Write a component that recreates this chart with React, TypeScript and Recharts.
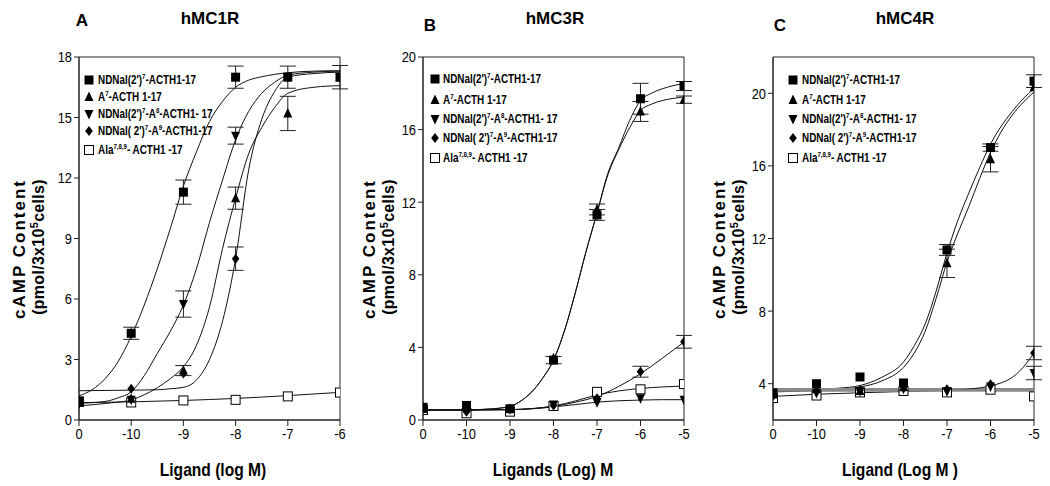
import React from "react";
import {
  ComposedChart,
  Line,
  Scatter,
  XAxis,
  YAxis,
  ErrorBar,
  ReferenceArea,
} from "recharts";

const ARIAL = "'Liberation Sans', Arial, sans-serif";

// x tick labels, log M (position 0 = no ligand)
const TICKS_A = ["0", "-10", "-9", "-8", "-7", "-6"];
const TICKS_BC = ["0", "-10", "-9", "-8", "-7", "-6", "-5"];

// ---- A: hMC1R measured points (one per tick)
const A_SQ = [0.95, 4.3, 11.3, 17.0, 17.0, 17.0];
const A_SQ_ERR = [null, 0.3, 0.6, 0.55, 0.55, 0.58];
const A_UP = [0.85, 1.05, 2.45, 11.0, 15.2, 17.0];
const A_UP_ERR = [null, null, 0.25, 0.55, 0.85, null];
const A_DN = [0.8, 1.0, 5.75, 14.1, 17.0, 17.0];
const A_DN_ERR = [null, null, 0.65, 0.42, null, null];
const A_DIA = [0.95, 1.55, 2.3, 8.0, 17.0, 17.0];
const A_DIA_ERR = [null, null, null, 0.58, null, null];
const A_OPEN = [0.9, 0.87, 0.97, 1.0, 1.17, 1.36];

// A fitted curves [x, y]
const A_CURVE_SQ = [[0, 1.2], [0.25, 1.5], [0.5, 2.05], [0.75, 2.9], [1, 4.15], [1.25, 5.7], [1.5, 7.5], [1.75, 9.5], [2, 11.6], [2.25, 13.3], [2.5, 14.8], [2.75, 15.8], [3, 16.5], [3.25, 16.85], [3.5, 17.02], [4, 17.22], [4.5, 17.3], [5, 17.32]];
const A_CURVE_UP = [[0, 0.7], [0.5, 0.82], [1, 1.0], [1.25, 1.25], [1.5, 1.6], [1.75, 2.05], [2, 2.64], [2.25, 3.7], [2.5, 5.6], [2.75, 8.5], [3, 11.0], [3.25, 13.2], [3.5, 14.5], [3.75, 15.5], [4, 16.2], [4.5, 16.5], [5, 16.58]];
const A_CURVE_DN = [[0, 0.83], [0.5, 0.92], [0.75, 1.1], [1, 1.4], [1.25, 2.2], [1.5, 3.3], [1.75, 4.4], [2, 5.7], [2.25, 7.5], [2.5, 9.8], [2.75, 11.9], [3, 13.9], [3.25, 15.3], [3.5, 16.2], [3.75, 16.75], [4, 17.1], [4.5, 17.25], [5, 17.3]];
const A_CURVE_DIA = [[0, 1.45], [1, 1.48], [1.5, 1.5], [1.75, 1.55], [2, 1.62], [2.25, 1.98], [2.5, 3.0], [2.75, 4.9], [3, 8.0], [3.25, 12.4], [3.5, 14.9], [3.75, 16.3], [4, 17.0], [4.5, 17.18], [5, 17.25]];
const A_CURVE_OPEN = [[0, 0.86], [1, 0.9], [2, 0.97], [3, 1.07], [4, 1.21], [5, 1.37]];

// ---- B: hMC3R
const B_SQ = [0.7, 0.8, 0.62, 3.3, 11.3, 17.7, 18.4];
const B_SQ_ERR = [null, null, null, 0.2, 0.3, 0.85, 0.25];
const B_UP = [0.6, 0.7, 0.6, 3.4, 11.6, 17.0, 17.65];
const B_UP_ERR = [null, null, null, null, 0.3, 0.55, 0.2];
const B_DN = [0.65, 0.7, 0.6, 0.85, 0.98, 1.2, 1.12];
const B_DN_ERR = [null, null, null, null, null, null, null];
const B_DIA = [0.6, 0.45, 0.6, 0.8, 1.2, 2.66, 4.31];
const B_DIA_ERR = [null, null, null, null, null, 0.3, 0.35];
const B_OPEN = [0.55, 0.37, 0.46, 0.77, 1.55, 1.69, 1.98];

const B_CURVE_SQ = [[0, 0.55], [1, 0.56], [1.5, 0.6], [2, 0.75], [2.25, 1.05], [2.5, 1.55], [2.75, 2.3], [3, 3.3], [3.25, 4.9], [3.5, 7.0], [3.75, 9.3], [4, 11.4], [4.25, 13.6], [4.5, 15.0], [4.75, 16.5], [5, 17.6], [5.25, 18.0], [5.5, 18.25], [5.75, 18.42], [6, 18.55]];
const B_CURVE_UP = [[0, 0.55], [1, 0.56], [1.5, 0.6], [2, 0.75], [2.25, 1.05], [2.5, 1.55], [2.75, 2.3], [3, 3.3], [3.25, 4.9], [3.5, 7.0], [3.75, 9.3], [4, 11.4], [4.25, 13.5], [4.5, 14.9], [4.75, 16.1], [5, 17.05], [5.25, 17.4], [5.5, 17.6], [5.75, 17.72], [6, 17.8]];
const B_CURVE_DN = [[0, 0.55], [1, 0.55], [2, 0.57], [2.5, 0.62], [3, 0.72], [3.5, 0.85], [4, 0.98], [4.5, 1.06], [5, 1.1], [5.5, 1.12], [6, 1.12]];
const B_CURVE_DIA = [[0, 0.55], [1, 0.55], [2, 0.57], [2.5, 0.62], [3, 0.75], [3.5, 0.98], [4, 1.3], [4.5, 1.85], [5, 2.55], [5.5, 3.4], [6, 4.3]];
const B_CURVE_OPEN = [[0, 0.55], [1, 0.55], [2, 0.57], [2.5, 0.63], [3, 0.77], [3.5, 1.05], [4, 1.38], [4.5, 1.6], [5, 1.74], [5.5, 1.82], [6, 1.87]];

// ---- C: hMC4R
const C_SQ = [3.5, 4.0, 4.37, 4.04, 11.37, 17.01, 20.67];
const C_SQ_ERR = [null, null, null, null, 0.3, 0.2, 0.35];
const C_UP = [3.4, 3.7, 3.6, 3.8, 10.63, 16.37, 20.34];
const C_UP_ERR = [null, null, null, null, 0.78, 0.7, null];
const C_DN = [3.3, 3.49, 3.59, 3.72, 3.59, 3.85, 4.59];
const C_DN_ERR = [null, null, null, null, null, null, 0.37];
const C_DIA = [3.4, 3.59, 3.64, 3.87, 3.69, 3.97, 5.69];
const C_DIA_ERR = [null, null, null, null, null, null, 0.37];
const C_OPEN = [3.21, 3.35, 3.52, 3.6, 3.52, 3.67, 3.3];

const C_CURVE_SQ = [[0, 3.6], [1, 3.68], [1.5, 3.75], [2, 3.9], [2.5, 4.35], [3, 5.2], [3.25, 6.1], [3.5, 7.3], [3.75, 9.1], [4, 11.2], [4.25, 13.0], [4.5, 14.5], [4.75, 15.9], [5, 17.2], [5.25, 18.2], [5.5, 19.0], [5.75, 19.7], [6, 20.25]];
const C_CURVE_UP = [[0, 3.55], [1, 3.62], [1.5, 3.68], [2, 3.82], [2.5, 4.15], [3, 4.9], [3.25, 5.7], [3.5, 6.9], [3.75, 8.7], [4, 10.7], [4.25, 12.3], [4.5, 13.75], [4.75, 15.3], [5, 16.75], [5.25, 17.9], [5.5, 18.8], [5.75, 19.5], [6, 20.07]];
const C_CURVE_DN = [[0, 3.7], [3, 3.7], [6, 3.7]];
const C_CURVE_DIA = [[0, 3.3], [1, 3.42], [2, 3.5], [3, 3.57], [4, 3.63], [4.5, 3.7], [5, 3.88], [5.25, 4.05], [5.5, 4.35], [5.75, 4.9], [6, 5.7]];
const C_CURVE_OPEN = [[0, 3.62], [3, 3.62], [6, 3.62]];

type Kind = "sq" | "up" | "dn" | "dia" | "open";

function Marker({ kind, cx, cy }: { kind: Kind; cx: number; cy: number }) {
  if (cx == null || cy == null) return null;
  switch (kind) {
    case "sq":
      return <rect x={cx - 4.5} y={cy - 4.5} width={9} height={9} fill="#000" />;
    case "up":
      return <polygon points={`${cx},${cy - 5.5} ${cx + 4.5},${cy + 4} ${cx - 4.5},${cy + 4}`} fill="#000" />;
    case "dn":
      return <polygon points={`${cx},${cy + 5.5} ${cx + 4.5},${cy - 4} ${cx - 4.5},${cy - 4}`} fill="#000" />;
    case "dia":
      return <polygon points={`${cx},${cy - 5} ${cx + 3.8},${cy} ${cx},${cy + 5} ${cx - 3.8},${cy}`} fill="#000" />;
    default:
      return <rect x={cx - 4.5} y={cy - 4.5} width={9} height={9} fill="#fff" stroke="#000" strokeWidth={1} />;
  }
}

const toPoints = (vals: number[], errs?: (number | null)[]) =>
  vals.map((y, i) => ({ x: i, y, e: errs ? errs[i] : null }));
const toCurve = (pairs: number[][]) => pairs.map(([x, y]) => ({ x, y }));

// narrow-looking tick text (no condensed font installed)
function NarrowTick(props: any) {
  const { x, y, payload, textAnchor, vertical, fmt } = props;
  return (
    <g transform={`translate(${x},${y})`}>
      <text
        textAnchor={textAnchor}
        dy={vertical ? "0.36em" : "0.75em"}
        transform="scale(0.86,1)"
        fill="#000"
        fontSize={15}
        fontFamily={ARIAL}
      >
        {fmt ? fmt(payload.value) : payload.value}
      </text>
    </g>
  );
}

type Series = { kind: Kind; vals: number[]; errs?: (number | null)[]; curve: number[][]; gray?: boolean };

function Panel({ left, plotLeft, labels, yDomain, yTicks, series }: {
  left: number; plotLeft: number; labels: string[]; yDomain: [number, number]; yTicks: number[]; series: Series[];
}) {
  const n = labels.length - 1;
  // draw order: open squares under, filled squares on top
  const drawOrder = [...series].reverse();
  return (
    <div style={{ position: "absolute", left, top: 0 }}>
      <ComposedChart width={350} height={486} margin={{ top: 57, right: 350 - plotLeft - 261, bottom: 36, left: 0 }}>
        <XAxis
          type="number"
          dataKey="x"
          domain={[0, n]}
          ticks={labels.map((_, i) => i)}
          height={30}
          tickSize={6}
          tick={<NarrowTick fmt={(v: number) => labels[v]} />}
          axisLine={{ stroke: "#222" }}
          tickLine={{ stroke: "#222" }}
          allowDataOverflow
        />
        <YAxis
          type="number"
          dataKey="y"
          domain={yDomain}
          ticks={yTicks}
          width={plotLeft}
          tickSize={5}
          tick={<NarrowTick vertical />}
          axisLine={{ stroke: "#222" }}
          tickLine={{ stroke: "#222" }}
          allowDataOverflow
        />
        <ReferenceArea x1={0} x2={n} y1={yDomain[0]} y2={yDomain[1]} fill="none" stroke="#222" strokeWidth={1} />
        {series.map((s, i) => (
          <Line
            key={"c" + i}
            data={toCurve(s.curve)}
            dataKey="y"
            type="monotone"
            dot={false}
            stroke={s.gray ? "#8a8a8a" : "#111"}
            strokeWidth={s.gray ? 2.5 : 1}
            isAnimationActive={false}
          />
        ))}
        {drawOrder.map((s, i) => (
          <Scatter
            key={"p" + i}
            data={toPoints(s.vals, s.errs)}
            dataKey="y"
            shape={(p: any) => <Marker kind={s.kind} cx={p.cx} cy={p.cy} />}
            isAnimationActive={false}
          >
            {s.errs && <ErrorBar dataKey="e" direction="y" width={8} stroke="#222" strokeWidth={1} />}
          </Scatter>
        ))}
      </ComposedChart>
    </div>
  );
}

function LegendGlyph({ kind }: { kind: Kind }) {
  return (
    <svg width={12} height={12} style={{ position: "absolute", left: -6, top: -6 }}>
      <Marker kind={kind} cx={6} cy={6} />
    </svg>
  );
}

const sup = { fontSize: 8, verticalAlign: "super", lineHeight: 0 } as const;

const LEGEND_LABELS: [Kind, React.ReactNode][] = [
  ["sq", <>NDNal(2')<sup style={sup}>7</sup>-ACTH1-17</>],
  ["up", <>A<sup style={sup}>7</sup>-ACTH 1-17</>],
  ["dn", <>NDNal(2')<sup style={sup}>7</sup>-A<sup style={sup}>8</sup>-ACTH1- 17</>],
  ["dia", <>NDNal( 2')<sup style={sup}>7</sup>-A<sup style={sup}>9</sup>-ACTH1-17</>],
  ["open", <>Ala<sup style={sup}>7,8,9</sup>- ACTH1 -17</>],
];

function Legend({ markX, textX, rows }: { markX: number; textX: number; rows: number[] }) {
  return (
    <>
      {LEGEND_LABELS.map(([kind, label], i) => (
        <React.Fragment key={i}>
          <div style={{ position: "absolute", left: markX, top: rows[i] }}>
            <LegendGlyph kind={kind} />
          </div>
          <div
            style={{
              position: "absolute", left: textX, top: rows[i] - 8, lineHeight: "16px",
              fontFamily: ARIAL, fontWeight: 700, fontSize: 13, whiteSpace: "nowrap", color: "#000",
              transform: "scaleX(0.76)", transformOrigin: "0 50%",
            }}
          >
            {label}
          </div>
        </React.Fragment>
      ))}
    </>
  );
}

function Text({ x, y, size, sx, rotate, children, spacing }: any) {
  return (
    <div
      style={{
        position: "absolute", left: x, top: y, whiteSpace: "nowrap", lineHeight: 1,
        transform: `translate(-50%, -50%)${rotate ? " rotate(-90deg)" : ""}${sx ? ` scaleX(${sx})` : ""}`,
        fontFamily: ARIAL, fontWeight: 700, fontSize: size, color: "#000",
        letterSpacing: spacing || 0,
      }}
    >
      {children}
    </div>
  );
}

function YTitle({ x }: { x: number }) {
  return (
    <>
      <Text x={x} y={249} size={17} rotate spacing={2}>cAMP Content</Text>
      <Text x={x + 20} y={247} size={16} rotate spacing={0.3}>
        (pmol/3x10<sup style={{ fontSize: 11, verticalAlign: "super", lineHeight: 0 }}>5</sup>cells)
      </Text>
    </>
  );
}

export default function App() {
  const seriesA: Series[] = [
    { kind: "sq", vals: A_SQ, errs: A_SQ_ERR, curve: A_CURVE_SQ },
    { kind: "up", vals: A_UP, errs: A_UP_ERR, curve: A_CURVE_UP },
    { kind: "dn", vals: A_DN, errs: A_DN_ERR, curve: A_CURVE_DN },
    { kind: "dia", vals: A_DIA, errs: A_DIA_ERR, curve: A_CURVE_DIA },
    { kind: "open", vals: A_OPEN, curve: A_CURVE_OPEN },
  ];
  const seriesB: Series[] = [
    { kind: "sq", vals: B_SQ, errs: B_SQ_ERR, curve: B_CURVE_SQ },
    { kind: "up", vals: B_UP, errs: B_UP_ERR, curve: B_CURVE_UP },
    { kind: "dn", vals: B_DN, errs: B_DN_ERR, curve: B_CURVE_DN },
    { kind: "dia", vals: B_DIA, errs: B_DIA_ERR, curve: B_CURVE_DIA },
    { kind: "open", vals: B_OPEN, curve: B_CURVE_OPEN },
  ];
  const seriesC: Series[] = [
    { kind: "sq", vals: C_SQ, errs: C_SQ_ERR, curve: C_CURVE_SQ },
    { kind: "up", vals: C_UP, errs: C_UP_ERR, curve: C_CURVE_UP },
    { kind: "dn", vals: C_DN, errs: C_DN_ERR, curve: C_CURVE_DN, gray: true },
    { kind: "dia", vals: C_DIA, errs: C_DIA_ERR, curve: C_CURVE_DIA },
    { kind: "open", vals: C_OPEN, curve: C_CURVE_OPEN, gray: true },
  ];

  return (
    <div style={{ position: "absolute", left: 0, top: 0, width: 1050, height: 486, background: "#fff", overflow: "hidden" }}>
      <Panel left={0} plotLeft={79} labels={TICKS_A} yDomain={[0, 18]} yTicks={[0, 3, 6, 9, 12, 15, 18]} series={seriesA} />
      <Panel left={350} plotLeft={73} labels={TICKS_BC} yDomain={[0, 20]} yTicks={[0, 4, 8, 12, 16, 20]} series={seriesB} />
      <Panel left={700} plotLeft={73} labels={TICKS_BC} yDomain={[2, 22]} yTicks={[4, 8, 12, 16, 20]} series={seriesC} />

      <Text x={82} y={20} size={17}>A</Text>
      <Text x={210} y={18} size={17}>hMC1R</Text>
      <Text x={430} y={25} size={17}>B</Text>
      <Text x={555} y={18} size={17}>hMC3R</Text>
      <Text x={780} y={25} size={17}>C</Text>
      <Text x={905} y={18} size={17}>hMC4R</Text>

      <YTitle x={19} />
      <YTitle x={369} />
      <YTitle x={719} />

      <Text x={213} y={469} size={19} sx={0.82}>Ligand (log M)</Text>
      <Text x={553} y={469} size={19} sx={0.82}>Ligands (Log) M</Text>
      <Text x={900} y={469} size={19} sx={0.82}>Ligand (Log M )</Text>

      <Legend markX={89} textX={98} rows={[80, 97, 114, 131, 150]} />
      <Legend markX={435} textX={443} rows={[79, 100, 119, 138, 158]} />
      <Legend markX={793} textX={802} rows={[80, 100, 119, 138, 158]} />
    </div>
  );
}
